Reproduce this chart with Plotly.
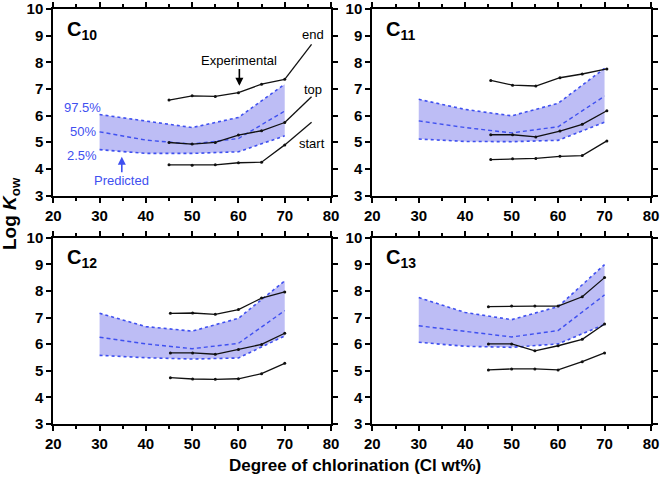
import plotly.graph_objects as go

# ---------------- data ----------------
PANELS = ["C10", "C11", "C12", "C13"]
pred_x = [30, 40, 50, 60, 70]

pred_hi = {  # 97.5 %
    "C10": [6.04, 5.80, 5.55, 5.93, 7.18],
    "C11": [6.61, 6.23, 5.99, 6.46, 7.77],
    "C12": [7.16, 6.66, 6.49, 6.97, 8.38],
    "C13": [7.75, 7.19, 6.92, 7.41, 8.99],
}
pred_mid = {  # 50 %
    "C10": [5.39, 5.08, 4.93, 5.14, 6.17],
    "C11": [5.80, 5.55, 5.35, 5.58, 6.73],
    "C12": [6.26, 6.01, 5.83, 6.03, 7.26],
    "C13": [6.69, 6.47, 6.27, 6.51, 7.85],
}
pred_lo = {  # 2.5 %
    "C10": [4.72, 4.58, 4.58, 4.64, 5.24],
    "C11": [5.12, 5.03, 5.02, 5.07, 5.75],
    "C12": [5.58, 5.49, 5.44, 5.48, 6.31],
    "C13": [6.07, 5.92, 5.88, 6.01, 6.74],
}

exp_x = {
    "C10": [45, 50, 55, 60, 65, 70],
    "C11": [45.5, 50.2, 55.2, 60.4, 65.2, 70.5],
    "C12": [45.3, 50.1, 55, 60, 65, 70],
    "C13": [45, 50, 55, 60, 65.2, 70],
}
exp_end = {
    "C10": [6.58, 6.74, 6.72, 6.86, 7.18, 7.36],
    "C11": [7.32, 7.14, 7.11, 7.42, 7.56, 7.75],
    "C12": [7.16, 7.17, 7.12, 7.30, 7.73, 7.96],
    "C13": [7.41, 7.43, 7.43, 7.43, 7.78, 8.50],
}
exp_top = {
    "C10": [4.99, 4.93, 4.99, 5.27, 5.43, 5.74],
    "C11": [5.28, 5.28, 5.20, 5.42, 5.67, 6.18],
    "C12": [5.67, 5.67, 5.62, 5.80, 5.99, 6.41],
    "C13": [6.01, 6.01, 5.75, 5.94, 6.18, 6.76],
}
exp_start = {
    "C10": [4.15, 4.14, 4.15, 4.23, 4.25, 4.90],
    "C11": [4.35, 4.38, 4.39, 4.47, 4.50, 5.05],
    "C12": [4.74, 4.69, 4.68, 4.70, 4.89, 5.28],
    "C13": [5.03, 5.07, 5.07, 5.03, 5.34, 5.67],
}

# leader lines from the C10 experimental curves to their labels
leader_x = [70, 75.8]
leader_end = [7.36, 8.67]
leader_top = [5.74, 6.71]
leader_start = [4.90, 5.75]

x_ticks = [20, 30, 40, 50, 60, 70, 80]
y_ticks = [3, 4, 5, 6, 7, 8, 9, 10]

# ---------------- style ----------------
FONT = "Liberation Sans, Arial, sans-serif"
BLUE = "#3f50f0"
FILL = "#bdbdf5"
BLACK = "#111111"

W, H = 661, 478
xdom = [[53.3 / W, 331.0 / W], [372.3 / W, 651.0 / W]]
ydom = [[1 - 195.5 / H, 1 - 9.0 / H], [1 - 424.0 / H, 1 - 237.7 / H]]
layout_pos = [(0, 0), (1, 0), (0, 1), (1, 1)]  # (col,row) row 0 = top

fig = go.Figure()

for i, p in enumerate(PANELS):
    n = i + 1
    xa = "x" if n == 1 else f"x{n}"
    ya = "y" if n == 1 else f"y{n}"
    fig.add_trace(go.Scatter(x=pred_x, y=pred_lo[p], xaxis=xa, yaxis=ya, mode="lines",
                             line=dict(color=BLUE, width=1.6, dash="dot"), showlegend=False))
    fig.add_trace(go.Scatter(x=pred_x, y=pred_hi[p], xaxis=xa, yaxis=ya, mode="lines",
                             fill="tonexty", fillcolor=FILL,
                             line=dict(color=BLUE, width=1.6, dash="dot"), showlegend=False))
    fig.add_trace(go.Scatter(x=pred_x, y=pred_mid[p], xaxis=xa, yaxis=ya, mode="lines",
                             line=dict(color=BLUE, width=1.4, dash="4px,3px"), showlegend=False))
    for ser in (exp_end, exp_top, exp_start):
        fig.add_trace(go.Scatter(x=exp_x[p], y=ser[p], xaxis=xa, yaxis=ya, mode="lines+markers",
                                 line=dict(color=BLACK, width=1.3),
                                 marker=dict(size=3, color=BLACK), showlegend=False))

for ly in (leader_end, leader_top, leader_start):
    fig.add_trace(go.Scatter(x=leader_x, y=ly, xaxis="x", yaxis="y", mode="lines",
                             line=dict(color=BLACK, width=1.3), showlegend=False))

axis_common = dict(showline=True, linecolor="black", linewidth=2, mirror="allticks",
                   ticks="outside", tickcolor="black", tickwidth=2, showgrid=False,
                   zeroline=False, automargin=False,
                   tickfont=dict(family=FONT, size=15, color="black", weight="bold"))

lay = dict(width=W, height=H, margin=dict(l=0, r=0, t=0, b=0, pad=0, autoexpand=False),
           paper_bgcolor="white", plot_bgcolor="white",
           font=dict(family=FONT, color="black"))

for i, p in enumerate(PANELS):
    n = i + 1
    col, row = layout_pos[i]
    xk = "xaxis" if n == 1 else f"xaxis{n}"
    yk = "yaxis" if n == 1 else f"yaxis{n}"
    xa_anchor = "y" if n == 1 else f"y{n}"
    ya_anchor = "x" if n == 1 else f"x{n}"
    lay[xk] = dict(axis_common, domain=xdom[col], anchor=xa_anchor, range=[20, 80],
                   tickvals=x_ticks, ticktext=[str(v) for v in x_ticks], ticklen=5,
                   minor=dict(dtick=5, tick0=0, ticks="outside", ticklen=3, tickwidth=2,
                              tickcolor="black"))
    lay[yk] = dict(axis_common, domain=ydom[row], anchor=ya_anchor, range=[3, 10],
                   tickvals=y_ticks, ticktext=[str(v) for v in y_ticks], ticklen=5)

annotations = []
for i, p in enumerate(PANELS):
    n = i + 1
    xr = "x" if n == 1 else f"x{n}"
    yr = "y" if n == 1 else f"y{n}"
    annotations.append(dict(x=22.5, y=9.2, xref=xr, yref=yr, xanchor="left", yanchor="middle",
                            text=f"<b>C<sub>{p[1:]}</sub></b>", showarrow=False,
                            font=dict(family=FONT, size=20, color="black")))

tf = dict(family=FONT, size=13, color="black")
bf = dict(family=FONT, size=13, color=BLUE)
annotations += [
    dict(x=76.1, y=9.05, xref="x", yref="y", text="end", showarrow=False, font=tf),
    dict(x=76.1, y=6.98, xref="x", yref="y", text="top", showarrow=False, font=tf),
    dict(x=75.9, y=4.95, xref="x", yref="y", text="start", showarrow=False, font=tf),
    dict(x=60.2, y=8.08, xref="x", yref="y", text="Experimental", showarrow=False, font=tf),
    dict(x=60.2, y=7.12, ax=60.2, ay=7.8, xref="x", yref="y", axref="x", ayref="y", text="",
         showarrow=True, arrowhead=2, arrowsize=1, arrowwidth=1.6, arrowcolor="black"),
    dict(x=26.3, y=6.31, xref="x", yref="y", text="97.5%", showarrow=False, font=bf),
    dict(x=26.5, y=5.42, xref="x", yref="y", text="50%", showarrow=False, font=bf),
    dict(x=26.3, y=4.52, xref="x", yref="y", text="2.5%", showarrow=False, font=bf),
    dict(x=34.8, y=3.58, xref="x", yref="y", text="Predicted", showarrow=False, font=bf),
    dict(x=34.8, y=4.45, ax=34.8, ay=3.82, xref="x", yref="y", axref="x", ayref="y", text="",
         showarrow=True, arrowhead=2, arrowsize=1, arrowwidth=1.6, arrowcolor=BLUE),
    dict(x=11 / W, y=1 - 214 / H, xref="paper", yref="paper", xanchor="center", yanchor="middle",
         textangle=-90, text="<b>Log <i>K</i><sub>ow</sub></b>", showarrow=False,
         font=dict(family=FONT, size=19, color="black")),
    dict(x=355 / W, y=1 - 465 / H, xref="paper", yref="paper", xanchor="center", yanchor="middle",
         text="<b>Degree of chlorination (Cl wt%)</b>", showarrow=False,
         font=dict(family=FONT, size=17, color="black")),
]
lay["annotations"] = annotations
fig.update_layout(**lay)
fig.write_html("out.html", config={"displayModeBar": False},
               post_script="document.body.style.margin='0';")
